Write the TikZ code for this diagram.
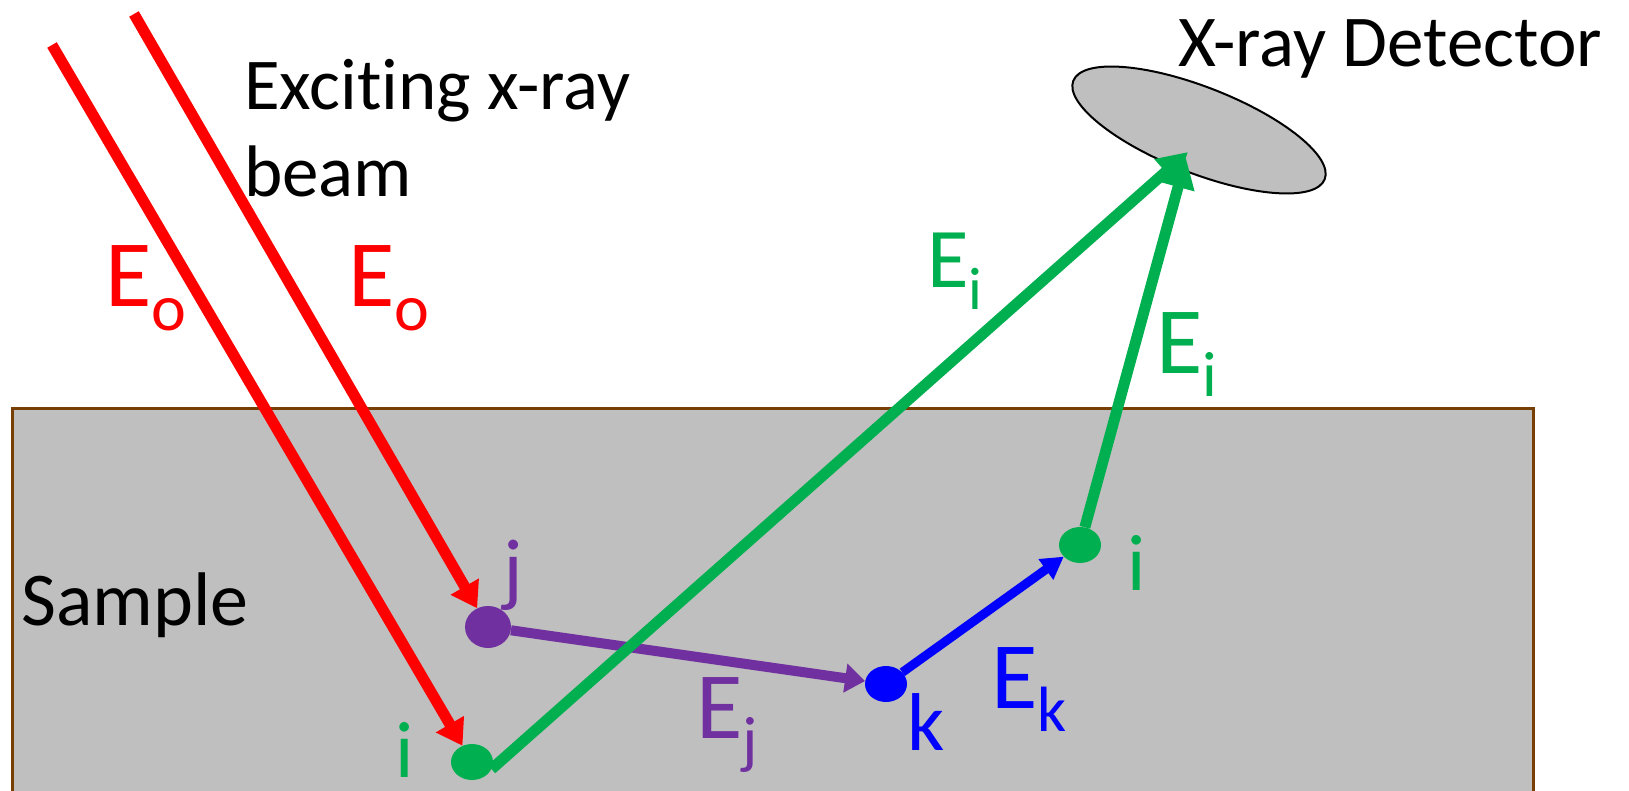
\documentclass[tikz,border=0pt]{standalone}
\usepackage{fontspec}
\setmainfont{Carlito}[Ligatures=CommonOff]
\usepackage{tikz}
\usetikzlibrary{shapes.geometric,arrows.meta}

\definecolor{beamred}{RGB}{255,0,0}
\definecolor{lineGreen}{RGB}{0,176,80}
\definecolor{linePurple}{RGB}{112,48,160}
\definecolor{lineBlue}{RGB}{0,0,255}
\definecolor{sampleGray}{RGB}{191,191,191}
\definecolor{sampleEdge}{RGB}{120,63,4}

% E with a lowered index letter
\newcommand{\Elab}[3]{{\fontsize{#1}{#1}\selectfont E\raisebox{-0.25em}{\fontsize{#2}{#2}\selectfont #3}}}

\tikzset{
  atomdot/.style={ellipse, minimum width=42pt, minimum height=36pt, inner sep=0pt},
  lbl/.style={anchor=base west, inner sep=0pt},
  beam/.style={draw=beamred, line width=11pt, -{Triangle[length=25pt,width=31pt]}},
  iline/.style={draw=lineGreen, line width=11pt, -{Triangle[length=30pt,width=32pt]}},
  jline/.style={draw=linePurple, line width=10pt, -{Triangle[length=20pt,width=28pt]}},
  kline/.style={draw=lineBlue, line width=9pt, -{Triangle[length=22pt,width=24pt]}}
}

\begin{document}
\begin{tikzpicture}[x=1pt,y=-1pt]
  \clip (0,0) rectangle (1629,791);
  \fill[white] (0,0) rectangle (1629,791);

  % sample block
  \draw[fill=sampleGray, draw=sampleEdge, line width=3pt] (12,408) rectangle (1533,810);
  \node[lbl] (sample) at (21,625) {\fontsize{76}{76}\selectfont Sample};

  % detector
  \node[ellipse, draw=black, line width=2pt, fill=sampleGray, minimum width=270pt,
        minimum height=86pt, inner sep=0pt, rotate=-21.4] (det) at (1199,130) {};
  \node[lbl] (detlbl) at (1178,67) {\fontsize{73}{73}\selectfont X-ray Detector};
  \coordinate (hitA) at (1188,152);
  \coordinate (hitB) at (1186,158);

  % atoms
  \node[atomdot, fill=lineGreen] (dotI) at (472,762) {};
  \node[atomdot, fill=linePurple, minimum width=46pt, minimum height=42pt] (dotJ) at (488,627) {};
  \node[atomdot, fill=lineBlue] (dotK) at (886,684) {};
  \node[atomdot, fill=lineGreen] (dotIb) at (1080,545) {};

  % incoming beam
  \coordinate (srcA) at (52,45);
  \coordinate (srcB) at (134,14);
  \draw[beam] (srcA) -- (dotI);
  \draw[beam] (srcB) -- (dotJ);
  \node[lbl] (beamlbl) at (244,110) {\fontsize{73}{73}\selectfont Exciting x-ray};
  \node[lbl] (beamlblb) at (244,197) {\fontsize{73}{73}\selectfont beam};

  % cascade
  \draw[jline] (dotJ) -- (dotK);
  \draw[kline] (dotK) -- (dotIb);
  \draw[iline] (dotI.-20) -- (hitA);
  \draw[iline] (dotIb) -- (hitB);

  % energy labels
  \node[lbl, text=beamred] (eoA) at (105,307) {\Elab{95}{66}{o}};
  \node[lbl, text=beamred] (eoB) at (348,307) {\Elab{95}{66}{o}};
  \node[lbl, text=lineGreen] (eiA) at (927,288) {\Elab{85}{60}{i}};
  \node[lbl, text=lineGreen] (eiB) at (1156,373) {\Elab{95}{64}{i}};
  \node[lbl, text=linePurple] (ej) at (696,738) {\Elab{95}{64}{j}};
  \node[lbl, text=lineBlue] (ek) at (991,708) {\Elab{95}{64}{k}};

  % atom labels
  \node[lbl, text=linePurple] (lj) at (503,596) {\fontsize{82}{82}\selectfont j};
  \node[lbl, text=lineGreen] (li) at (395,777) {\fontsize{80}{80}\selectfont i};
  \node[lbl, text=lineBlue] (lk) at (907,750) {\fontsize{82}{82}\selectfont k};
  \node[lbl, text=lineGreen] (lib) at (1127,590) {\fontsize{80}{80}\selectfont i};
\end{tikzpicture}
\end{document}
